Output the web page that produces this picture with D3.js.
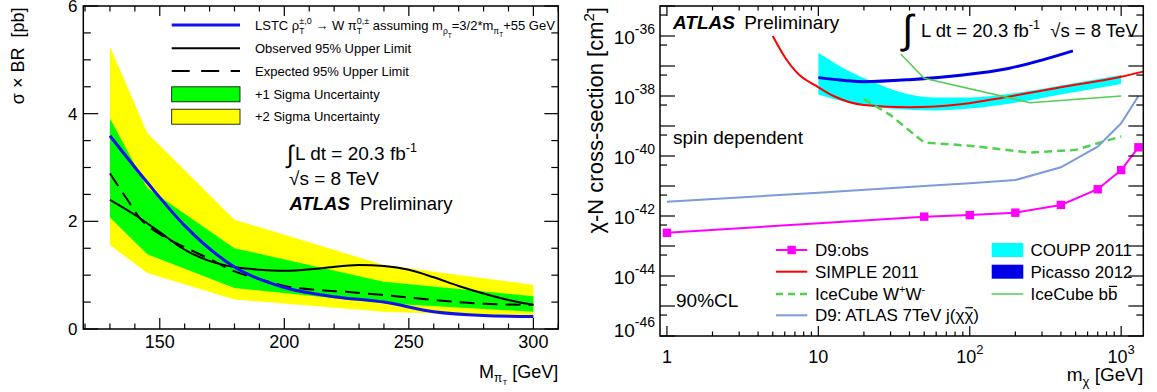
<!DOCTYPE html>
<html><head><meta charset="utf-8">
<script src="https://cdn.jsdelivr.net/npm/d3@7"></script>
<style>
body{margin:0;background:#fff;}
svg{display:block;}
text{font-family:"Liberation Sans",Arial,Helvetica,sans-serif;white-space:pre;fill:#000;}
</style></head><body>
<svg id="chart" width="1157" height="392"></svg>
<script>
// ---------- left panel: rho_T -> W pi_T cross-section limit ----------
const bandMass   = [130, 145, 180, 240, 300];
const sigma2Up   = [5.25, 3.64, 2.03, 1.19, 0.82];
const sigma1Up   = [3.91, 2.62, 1.50, 0.88, 0.61];
const sigma1Down = [2.07, 1.39, 0.76, 0.48, 0.32];
const sigma2Down = [1.56, 1.04, 0.55, 0.32, 0.22];

const theoryMass = [130, 145, 160, 180, 200, 220, 240, 260, 280, 300];
const lstcTheory = [3.59, 2.72, 1.92, 1.15, 0.77, 0.60, 0.50, 0.32, 0.25, 0.23];

const obsMass  = [130, 139, 150, 159, 169, 180, 190, 200, 215, 230, 240, 250, 260, 270, 280, 290, 300];
const observed = [2.40, 2.15, 1.80, 1.50, 1.28, 1.15, 1.10, 1.08, 1.13, 1.19, 1.17, 1.10, 0.96, 0.80, 0.66, 0.54, 0.45];

const expMass  = [130, 137, 142, 150, 160, 170, 180, 190, 200, 215, 225, 240, 260, 280, 300];
const expected = [2.89, 2.40, 2.06, 1.76, 1.52, 1.30, 1.07, 0.93, 0.80, 0.72, 0.69, 0.63, 0.54, 0.47, 0.45];

const leftXTicks = [150, 200, 250, 300];
const leftYTicks = [0, 2, 4, 6];

// ---------- right panel: chi-N spin dependent cross-section limits ----------
const d9ObsMass = [1, 50, 100, 200, 400, 700, 1000, 1300];
const d9Obs     = [2.75e-43, 9.5e-43, 1.07e-42, 1.29e-42, 2.34e-42, 7.8e-42, 3.4e-41, 1.95e-40];

const d9AtlasMass = [1, 10, 50, 100, 200, 400, 700, 1000, 1300];
const d9Atlas     = [3.0e-42, 6.0e-42, 1.0e-41, 1.23e-41, 1.58e-41, 4.2e-41, 2.05e-40, 1.23e-39, 1.0e-38];

const simpleMass = [5, 6, 7.5, 9.5, 12.5, 20, 40, 90, 180, 400, 1000, 1400];
const simple2011 = [1.0e-36, 2.0e-37, 5.0e-38, 2.3e-38, 1.02e-38, 5.0e-39, 4.2e-39, 5.4e-39, 9.5e-39, 1.95e-38, 4.4e-38, 6.5e-38];

const couppMass = [10, 15, 22, 40, 60, 100, 200, 400, 1000];
const couppLow  = [1.12e-38, 6.3e-39, 4.5e-39, 3.5e-39, 3.3e-39, 3.8e-39, 6.0e-39, 1.12e-38, 2.5e-38];
const couppHigh = [2.75e-37, 7.9e-38, 3.2e-38, 1.12e-38, 8.9e-39, 8.9e-39, 1.26e-38, 2.24e-38, 5.0e-38];

const picassoMass = [10, 15, 20, 40, 90, 180, 480];
const picasso2012 = [4.1e-38, 3.3e-38, 3.0e-38, 3.5e-38, 5.0e-38, 8.3e-38, 3.2e-37];

const iceWWMass = [20, 30, 50, 100, 250, 500, 1000];
const iceCubeWW = [7.9e-39, 2.3e-39, 2.8e-40, 2.2e-40, 1.3e-40, 1.6e-40, 4.5e-40];

const iceBBMass = [35, 50, 250, 1000];
const iceCubeBB = [2.5e-37, 3.9e-38, 6.0e-39, 1.0e-38];

const rightXTicks = [1, 10, 100, 1000];
const rightXTickLabels = [["1", ""], ["10", ""], ["10", "2"], ["10", "3"]];
const rightYExponents = [-46, -44, -42, -40, -38, -36];

// ---------- helpers ----------
const svg = d3.select("#chart");

// Places a run of text pieces (with sub/superscripts) one after another.
function richText(parent, x, y, parts, anchor, baseSize, fill) {
  const g = parent.append("g");
  let cx = 0, lastStart = 0;
  parts.forEach(p => {
    if (typeof p === "string") p = {t: p};
    const fs = p.fs || baseSize;
    const px = p.stack ? lastStart : cx;
    const t = g.append("text").attr("x", px).attr("y", p.dy || 0)
      .attr("font-size", fs).text(p.t);
    if (p.bold) t.attr("font-weight", "bold");
    if (p.italic) t.attr("font-style", "italic");
    if (fill) t.style("fill", fill);
    const w = t.node().getComputedTextLength();
    if (p.stack) cx = Math.max(cx, lastStart + w);
    else { lastStart = cx; cx += w; }
    if (p.gap) cx += p.gap;
    if (p.overline) {
      g.append("line").attr("x1", px + fs * 0.06).attr("x2", px + w - fs * 0.02)
        .attr("y1", (p.dy || 0) - fs * 0.8).attr("y2", (p.dy || 0) - fs * 0.8)
        .attr("stroke", "#000").attr("stroke-width", 1.2);
    }
  });
  const shift = anchor === "end" ? -cx : anchor === "middle" ? -cx / 2 : 0;
  g.attr("transform", `translate(${x + shift},${y})`);
  return g;
}

const defs = svg.append("defs");
defs.append("clipPath").attr("id", "clipL").append("rect")
  .attr("x", 83.3).attr("y", 6).attr("width", 475).attr("height", 323);
defs.append("clipPath").attr("id", "clipR").append("rect")
  .attr("x", 660).attr("y", 6).attr("width", 483.3).attr("height", 330);

// ================= LEFT PANEL =================
const xL = d3.scaleLinear().domain([119.3, 310]).range([83.3, 558.3]);
const yL = d3.scaleLinear().domain([0, 6]).range([329, 6]);

const gL = svg.append("g");
const plotL = gL.append("g").attr("clip-path", "url(#clipL)");

const bands = bandMass.map((m, i) => ({m, u2: sigma2Up[i], u1: sigma1Up[i], d1: sigma1Down[i], d2: sigma2Down[i]}));
plotL.append("path").datum(bands).attr("fill", "#ffff00")
  .attr("d", d3.area().x(d => xL(d.m)).y0(d => yL(d.d2)).y1(d => yL(d.u2)));
plotL.append("path").datum(bands).attr("fill", "#00ff00")
  .attr("d", d3.area().x(d => xL(d.m)).y0(d => yL(d.d1)).y1(d => yL(d.u1)));

const lineL = d3.line().x(d => xL(d[0])).y(d => yL(d[1])).curve(d3.curveMonotoneX);
plotL.append("path").datum(obsMass.map((m, i) => [m, observed[i]]))
  .attr("d", lineL).attr("fill", "none").attr("stroke", "#000").attr("stroke-width", 2);
plotL.append("path").datum(expMass.map((m, i) => [m, expected[i]]))
  .attr("d", lineL).attr("fill", "none").attr("stroke", "#000").attr("stroke-width", 2)
  .attr("stroke-dasharray", "15,8");
plotL.append("path").datum(theoryMass.map((m, i) => [m, lstcTheory[i]]))
  .attr("d", lineL).attr("fill", "none").attr("stroke", "#1010f0").attr("stroke-width", 3);

// frame and ticks
gL.append("rect").attr("x", 83.3).attr("y", 6).attr("width", 475).attr("height", 323)
  .attr("fill", "none").attr("stroke", "#000").attr("stroke-width", 1.5);
d3.range(120, 311, 10).forEach(v => {
  const major = v % 50 === 0, x = xL(v);
  gL.append("line").attr("x1", x).attr("x2", x).attr("y1", 329).attr("y2", 329 - (major ? 11 : 5.5))
    .attr("stroke", "#000").attr("stroke-width", 1.2);
  gL.append("line").attr("x1", x).attr("x2", x).attr("y1", 6).attr("y2", 6 + (major ? 10 : 5.5))
    .attr("stroke", "#000").attr("stroke-width", 1.2);
});
d3.range(0, 6.001, 0.5).forEach(v => {
  const major = v % 2 === 0, y = yL(v);
  gL.append("line").attr("x1", 83.3).attr("x2", 83.3 + (major ? 15 : 7.5)).attr("y1", y).attr("y2", y)
    .attr("stroke", "#000").attr("stroke-width", 1.2);
  gL.append("line").attr("x1", 558.3).attr("x2", 558.3 - (major ? 14 : 7)).attr("y1", y).attr("y2", y)
    .attr("stroke", "#000").attr("stroke-width", 1.2);
});
leftXTicks.forEach(v => {
  gL.append("text").attr("x", xL(v)).attr("y", 347.5).attr("text-anchor", "middle")
    .attr("font-size", 18).text(v);
});
leftYTicks.forEach(v => {
  gL.append("text").attr("x", 77.5).attr("y", Math.max(yL(v) + 6, 12.2)).attr("text-anchor", "end")
    .attr("font-size", 17).text(v);
});

// axis titles
const yTitleL = gL.append("g").attr("transform", "translate(24,7.5) rotate(-90)");
richText(yTitleL, 0, 0, ["σ × BR  [pb]"], "end", 18);
richText(gL, 558.3, 378, ["M", {t: "π", fs: 12, dy: 4}, {t: "T", fs: 8, dy: 7}, " [GeV]"], "end", 18);

// legend
const legL = gL.append("g");
const legRowsL = [25, 48.3, 71, 94.3, 116.7];
legL.append("line").attr("x1", 171.7).attr("x2", 240).attr("y1", legRowsL[0]).attr("y2", legRowsL[0])
  .attr("stroke", "#1010f0").attr("stroke-width", 3);
legL.append("line").attr("x1", 171.7).attr("x2", 240).attr("y1", legRowsL[1]).attr("y2", legRowsL[1])
  .attr("stroke", "#000").attr("stroke-width", 2);
legL.append("line").attr("x1", 171.7).attr("x2", 240).attr("y1", legRowsL[2]).attr("y2", legRowsL[2])
  .attr("stroke", "#000").attr("stroke-width", 2).attr("stroke-dasharray", "18,11.5");
legL.append("rect").attr("x", 171.7).attr("y", legRowsL[3] - 7.5).attr("width", 68.3).attr("height", 15)
  .attr("fill", "#00ff00").attr("stroke", "#000").attr("stroke-width", 0.8);
legL.append("rect").attr("x", 171.7).attr("y", legRowsL[4] - 7.5).attr("width", 68.3).attr("height", 15)
  .attr("fill", "#ffff00").attr("stroke", "#000").attr("stroke-width", 0.8);
richText(legL, 255, legRowsL[0] + 4.5, [
  "LSTC ρ", {t: "±,0", fs: 9, dy: -5.5}, {t: "T", fs: 8.5, dy: 4, stack: true},
  " → W π", {t: "0,±", fs: 9, dy: -5.5}, {t: "T", fs: 8.5, dy: 4, stack: true},
  " assuming m", {t: "ρ", fs: 8.5, dy: 4}, {t: "T", fs: 6.5, dy: 8},
  "=3/2*m", {t: "π", fs: 8.5, dy: 4}, {t: "T", fs: 6.5, dy: 7}, "+55 GeV"], "start", 13);
richText(legL, 255, legRowsL[1] + 4.5, ["Observed 95% Upper Limit"], "start", 13);
richText(legL, 255, legRowsL[2] + 4.5, ["Expected 95% Upper Limit"], "start", 13);
richText(legL, 255, legRowsL[3] + 4.5, ["+1 Sigma Uncertainty"], "start", 13);
richText(legL, 255, legRowsL[4] + 4.5, ["+2 Sigma Uncertainty"], "start", 13);

// labels
richText(gL, 287, 162.5, [{t: "∫", fs: 25}], "start", 19);
richText(gL, 295, 160, ["L dt = 20.3 fb", {t: "-1", fs: 12.5, dy: -8}], "start", 19);
richText(gL, 289, 185, ["√s = 8 TeV"], "start", 19);
richText(gL, 289.5, 210, [{t: "ATLAS", bold: true, italic: true, gap: 5}, " Preliminary"], "start", 18.5);

// ================= RIGHT PANEL =================
const xR = d3.scaleLog().domain([0.9, 1400]).range([660, 1143.3]);
const yR = d3.scaleLog().domain([1e-46, 1e-35]).range([336, 6]);

const gR = svg.append("g");
const plotR = gR.append("g").attr("clip-path", "url(#clipR)");

const coupp = couppMass.map((m, i) => ({m, lo: couppLow[i], hi: couppHigh[i]}));
plotR.append("path").datum(coupp).attr("fill", "#00ffff")
  .attr("d", d3.area().x(d => xR(d.m)).y0(d => yR(d.lo)).y1(d => yR(d.hi)).curve(d3.curveMonotoneX));

const lineR = d3.line().x(d => xR(d[0])).y(d => yR(d[1]));
const lineRs = d3.line().x(d => xR(d[0])).y(d => yR(d[1])).curve(d3.curveMonotoneX);
const pairs = (ms, vs) => ms.map((m, i) => [m, vs[i]]);

plotR.append("path").datum(pairs(picassoMass, picasso2012)).attr("d", lineRs)
  .attr("fill", "none").attr("stroke", "#0000e6").attr("stroke-width", 3);
plotR.append("path").datum(pairs(simpleMass, simple2011)).attr("d", lineRs)
  .attr("fill", "none").attr("stroke", "#ff0000").attr("stroke-width", 2);
plotR.append("path").datum(pairs(iceBBMass, iceCubeBB)).attr("d", lineR)
  .attr("fill", "none").attr("stroke", "#55cc55").attr("stroke-width", 1.5);
plotR.append("path").datum(pairs(iceWWMass, iceCubeWW)).attr("d", lineR)
  .attr("fill", "none").attr("stroke", "#50d050").attr("stroke-width", 2.5).attr("stroke-dasharray", "8,5");
plotR.append("path").datum(pairs(d9AtlasMass, d9Atlas)).attr("d", lineR)
  .attr("fill", "none").attr("stroke", "#7b9bd9").attr("stroke-width", 2);
plotR.append("path").datum(pairs(d9ObsMass, d9Obs)).attr("d", lineR)
  .attr("fill", "none").attr("stroke", "#ff00ff").attr("stroke-width", 2);
plotR.selectAll("rect.pt").data(pairs(d9ObsMass, d9Obs)).join("rect").attr("class", "pt")
  .attr("x", d => xR(d[0]) - 4.2).attr("y", d => yR(d[1]) - 4.2).attr("width", 8.4).attr("height", 8.4)
  .attr("fill", "#ff00ff");

// frame and ticks
gR.append("rect").attr("x", 660).attr("y", 6).attr("width", 483.3).attr("height", 330)
  .attr("fill", "none").attr("stroke", "#000").attr("stroke-width", 1.5);
[1, 10, 100, 1000].forEach(dec => {
  d3.range(1, 10).forEach(k => {
    const v = k * dec;
    if (v > 1400) return;
    const x = xR(v), major = k === 1;
    gR.append("line").attr("x1", x).attr("x2", x).attr("y1", 336).attr("y2", 336 - (major ? 10 : 4.5))
      .attr("stroke", "#000").attr("stroke-width", 1.2);
    gR.append("line").attr("x1", x).attr("x2", x).attr("y1", 6).attr("y2", 6 + (major ? 10 : 4.5))
      .attr("stroke", "#000").attr("stroke-width", 1.2);
  });
});
d3.range(-46, -34).forEach(e => {
  const y = yR(Math.pow(10, e));
  gR.append("line").attr("x1", 660).attr("x2", 675).attr("y1", y).attr("y2", y).attr("stroke", "#000").attr("stroke-width", 1.2);
  gR.append("line").attr("x1", 1143.3).attr("x2", 1128.3).attr("y1", y).attr("y2", y).attr("stroke", "#000").attr("stroke-width", 1.2);
  if (e > -46) {
    const y5 = yR(5 * Math.pow(10, e - 1));
    gR.append("line").attr("x1", 660).attr("x2", 667).attr("y1", y5).attr("y2", y5).attr("stroke", "#000").attr("stroke-width", 1.2);
    gR.append("line").attr("x1", 1143.3).attr("x2", 1136.3).attr("y1", y5).attr("y2", y5).attr("stroke", "#000").attr("stroke-width", 1.2);
  }
});
rightXTicks.forEach((v, i) => {
  const [base, sup] = rightXTickLabels[i];
  const parts = [base];
  if (sup) parts.push({t: sup, fs: 13, dy: -9});
  richText(gR, xR(v), 362.5, parts, "middle", 18);
});
rightYExponents.forEach(e => {
  const y = yR(Math.pow(10, e));
  richText(gR, 655, y + (e === -46 ? 1 : 8), ["10", {t: String(e), fs: 14, dy: -10}], "end", 19);
});

// axis titles
const yTitleR = gR.append("g").attr("transform", "translate(603,7) rotate(-90)");
richText(yTitleR, 0, 0, ["χ-N cross-section [cm", {t: "2", fs: 15, dy: -9}, "]"], "end", 22);
richText(gR, 1143.3, 381, ["m", {t: "χ", fs: 13, dy: 5}, " [GeV]"], "end", 19);

// labels
richText(gR, 673, 29.3, [{t: "ATLAS", bold: true, italic: true, gap: 4}, " Preliminary"], "start", 19);
richText(gR, 673, 144, ["spin dependent"], "start", 19);
richText(gR, 676, 306.5, ["90%CL"], "start", 19);
richText(gR, 902, 43, [{t: "∫", fs: 40}], "start", 19);
richText(gR, 921, 37.3, ["L dt = 20.3 fb", {t: "-1", fs: 12.5, dy: -8}, {t: "  √s = 8 TeV"}], "start", 18.5);

// legend
const legR = gR.append("g");
const legRowsR = [250, 271.7, 294, 315.3];
legR.append("line").attr("x1", 776).attr("x2", 807.3).attr("y1", legRowsR[0]).attr("y2", legRowsR[0])
  .attr("stroke", "#ff00ff").attr("stroke-width", 2);
legR.append("rect").attr("x", 791.6 - 4.2).attr("y", legRowsR[0] - 4.2).attr("width", 8.4).attr("height", 8.4).attr("fill", "#ff00ff");
legR.append("line").attr("x1", 776).attr("x2", 807.3).attr("y1", legRowsR[1]).attr("y2", legRowsR[1])
  .attr("stroke", "#ff0000").attr("stroke-width", 2);
legR.append("line").attr("x1", 776).attr("x2", 807.3).attr("y1", legRowsR[2]).attr("y2", legRowsR[2])
  .attr("stroke", "#50d050").attr("stroke-width", 2.5).attr("stroke-dasharray", "7,5");
legR.append("line").attr("x1", 776).attr("x2", 807.3).attr("y1", legRowsR[3]).attr("y2", legRowsR[3])
  .attr("stroke", "#7b9bd9").attr("stroke-width", 2);
legR.append("rect").attr("x", 991.7).attr("y", legRowsR[0] - 7).attr("width", 31.6).attr("height", 14).attr("fill", "#00ffff");
legR.append("rect").attr("x", 991.7).attr("y", legRowsR[1] - 7).attr("width", 31.6).attr("height", 14).attr("fill", "#0000e6");
legR.append("line").attr("x1", 991.7).attr("x2", 1023.3).attr("y1", legRowsR[2]).attr("y2", legRowsR[2])
  .attr("stroke", "#55cc55").attr("stroke-width", 1.5);

richText(legR, 815, legRowsR[0] + 6, ["D9:obs"], "start", 17);
richText(legR, 815, legRowsR[1] + 6, ["SIMPLE 2011"], "start", 17);
richText(legR, 815, legRowsR[2] + 6, ["IceCube W", {t: "+", fs: 11, dy: -7}, "W", {t: "-", fs: 11, dy: -7}], "start", 17);
richText(legR, 815, legRowsR[3] + 6, ["D9: ATLAS 7TeV j(χ", {t: "χ", overline: true}, ")"], "start", 17);
richText(legR, 1030.5, legRowsR[0] + 6, ["COUPP 2011"], "start", 17);
richText(legR, 1030.5, legRowsR[1] + 6, ["Picasso 2012"], "start", 17);
richText(legR, 1030.5, legRowsR[2] + 6, ["IceCube b", {t: "b", overline: true}], "start", 17);
</script>
</body></html>
